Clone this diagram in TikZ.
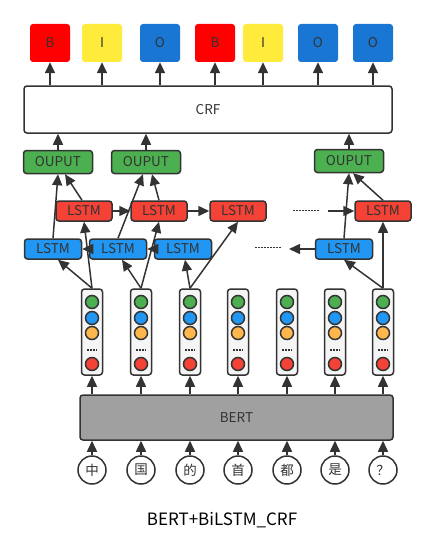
\documentclass[tikz,border=0pt]{standalone}
\usepackage{fontspec}
\setmainfont{Noto Sans CJK SC}
\usetikzlibrary{arrows.meta}

\definecolor{ink}{HTML}{333333}
\definecolor{tagred}{HTML}{FF0000}
\definecolor{tagyellow}{HTML}{FFEB3B}
\definecolor{tagblue}{HTML}{1976D2}
\definecolor{lstmred}{HTML}{F44336}
\definecolor{lstmblue}{HTML}{2196F3}
\definecolor{outgreen}{HTML}{4CAF50}
\definecolor{dotorange}{HTML}{FFB74D}
\definecolor{vecgray}{HTML}{F5F5F5}
\definecolor{bertgray}{HTML}{A0A0A0}

\begin{document}
\begin{tikzpicture}[x=1pt, y=-1pt,
  every node/.style={inner sep=0pt, text=ink, font=\fontsize{13.5}{15}\selectfont},
  box/.style={draw=ink, line width=1.5pt, rounded corners=3pt},
  tag/.style={rounded corners=3pt, minimum width=40pt, minimum height=38pt},
  outbox/.style={box, fill=outgreen, minimum width=69pt, minimum height=23pt},
  fwd/.style={box, fill=lstmred, minimum width=56pt, minimum height=20pt},
  bwd/.style={box, fill=lstmblue, minimum width=57pt, minimum height=20pt},
  vec/.style={box, fill=vecgray, minimum width=21pt, minimum height=86pt},
  cell/.style={circle, draw=ink, line width=1.5pt, minimum size=13pt},
  word/.style={circle, draw=ink, line width=1.5pt, minimum size=28pt},
  arr/.style={draw=ink, line width=1.5pt, -{Triangle[length=11pt,width=10pt]}},
  gap/.style={draw=ink, line width=1pt, dash pattern=on 1.5pt off 1.5pt}
]
\useasboundingbox (0,0) rectangle (436,543);

% CRF and tags
\node[box, minimum width=368pt, minimum height=47pt] (crf) at (208,109.5) {CRF};
\foreach \x/\t/\col [count=\i] in {50/B/tagred, 102/I/tagyellow, 160/O/tagblue,
    215/B/tagred, 263/I/tagyellow, 318/O/tagblue, 373/O/tagblue} {
 \node[tag, fill=\col] (t\i) at (\x,43) {\t};
 \draw[arr] (t\i.south |- crf.north) -- (t\i.south);
}

% output layer
\node[outbox] (o1) at (58,162) {OUPUT};
\node[outbox] (o2) at (146,162) {OUPUT};
\node[outbox] (o3) at (349,161) {OUPUT};
\foreach \i in {1,2,3}
 \draw[arr] (o\i.north) -- (o\i.north |- crf.south);

% forward LSTM
\node[fwd] (r1) at (84,211) {LSTM};
\node[fwd] (r2) at (159,211) {LSTM};
\node[fwd] (r3) at (238,211) {LSTM};
\node[fwd] (r4) at (383,211) {LSTM};
\coordinate (rd) at (328,211);
\draw[gap] (293,210) -- (320,210);

% backward LSTM
\node[bwd] (b1) at (53,249) {LSTM};
\node[bwd] (b2) at (118,249) {LSTM};
\node[bwd] (b3) at (183,249) {LSTM};
\node[bwd] (b4) at (344,249) {LSTM};
\coordinate (bd) at (289,249);
\draw[gap] (255,247) -- (282,247);

% BERT vectors
\foreach \x [count=\i] in {92,141,190,238,287,335,383} {
 \node[vec] (v\i) at (\x,332) {};
 \node[cell, fill=outgreen] (g\i) at (\x,302) {};
 \node[cell, fill=lstmblue] (u\i) at (\x,318) {};
 \node[cell, fill=dotorange] (y\i) at (\x,333) {};
 \draw[gap, line width=1.5pt] (\x-5,350) -- (\x+5,350);
 \node[cell, fill=lstmred] (e\i) at (\x,364) {};
}

\node[box, fill=bertgray, minimum width=313pt, minimum height=45pt] (bert) at (236.5,417.5) {BERT};
\foreach \x/\c [count=\i] in {92/中,141/国,190/的,238/首,287/都,335/是,383/？} {
 \node[word] (c\i) at (\x,470) {\c};
 \draw[arr] (c\i.north) -- (c\i.north |- bert.south);
 \draw[arr] (v\i.south |- bert.north) -- (v\i.south);
}

% links into the LSTMs
\draw[arr] (v1.north) -- ([xshift=5pt]b1.south);
\draw[arr] (v1.north) -- (r1.south);
\draw[arr] (v2.north) -- ([xshift=4pt]b2.south);
\draw[arr] (v2.north) -- (r2.south);
\draw[arr] (v3.north) -- ([xshift=2pt]b3.south);
\draw[arr] (v3.north) -- (r3.south);
\draw[arr] (v7.north) -- (b4.south);
\draw[arr] (v7.north) -- (r4.south);

\draw[arr] (r1.east) -- (r2.west);
\draw[arr] (r2.east) -- (r3.west);
\draw[arr] (rd) -- (r4.west);
\draw[arr] (b2.west) -- (b1.east);
\draw[arr] (b3.west) -- (b2.east);
\draw[arr] (b4.west) -- (bd);

% LSTMs into outputs
\draw[arr] (b1.north) -- (o1.south);
\draw[arr] ([xshift=-2pt]r1.north) -- ([xshift=7pt]o1.south);
\draw[arr] (b2.north) -- ([xshift=-3pt]o2.south);
\draw[arr] (r2.north) -- ([xshift=6pt]o2.south);
\draw[arr] (b4.north) -- (o3.south);
\draw[arr] (r4.north) -- ([xshift=4pt]o3.south);

\node[text=black, font=\fontsize{17}{20}\selectfont] (title) at (222,520) {BERT+BiLSTM\_CRF};
\end{tikzpicture}
\end{document}
